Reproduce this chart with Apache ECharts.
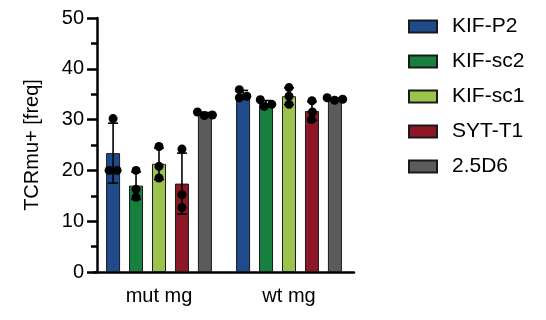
<!DOCTYPE html>
<html>
<head>
<meta charset="utf-8">
<script src="https://cdn.jsdelivr.net/npm/echarts@6/dist/echarts.min.js"></script>
<style>
  html, body { margin: 0; padding: 0; background: #fff; }
  #chart { width: 546px; height: 320px; }
</style>
</head>
<body>
<div id="chart"></div>
<script>
var categories = ['mut mg', 'wt mg'];
var seriesNames = ['KIF-P2', 'KIF-sc2', 'KIF-sc1', 'SYT-T1', '2.5D6'];
var yTicks = [0, 10, 20, 30, 40, 50];

// bar heights (mean) per group: [mut mg, wt mg]
var kifP2 = [23.4, 34.9];
var kifSc2 = [17.0, 33.1];
var kifSc1 = [21.3, 34.6];
var sytT1 = [17.4, 31.7];
var d56 = [31.0, 34.0];

// error bars (SD)
var kifP2Sd = [5.9, 0.85];
var kifSc2Sd = [2.7, 0.65];
var kifSc1Sd = [3.1, 1.65];
var sytT1Sd = [6.0, 1.85];
var d56Sd = [0.4, 0.25];

// individual replicates
var kifP2Pts = [[30.2, 20.0, 20.0], [35.9, 34.6, 34.3]];
var kifSc2Pts = [[20.0, 16.3, 14.7], [33.9, 33.0, 32.6]];
var kifSc1Pts = [[24.7, 20.8, 18.5], [36.3, 34.6, 33.0]];
var sytT1Pts = [[24.2, 15.2, 12.7], [33.7, 31.5, 30.0]];
var d56Pts = [[30.8, 31.5, 30.9], [34.3, 34.0, 33.8]];

var colors = ['#1f4a8c', '#17803f', '#9cc44c', '#8e1727', '#5a5b5a'];
var means = [kifP2, kifSc2, kifSc1, sytT1, d56];
var sds = [kifP2Sd, kifSc2Sd, kifSc1Sd, sytT1Sd, d56Sd];
var points = [kifP2Pts, kifSc2Pts, kifSc1Pts, sytT1Pts, d56Pts];

var FONT = "'Liberation Sans', Arial, sans-serif";
var BAR_W = 14;
var BAR_GAP = '64%';
var DOT_R = 4.5;

// simple beeswarm so overlapping dots sit side by side
function swarm(ys, minDist) {
  var idx = ys.map(function (y, i) { return i; });
  idx.sort(function (a, b) { return ys[b] - ys[a]; });
  var xs = [];
  var placed = [];
  idx.forEach(function (i) {
    var y = ys[i];
    for (var k = 0; k < 400; k++) {
      var cand = (k % 2 ? 1 : -1) * Math.ceil(k / 2) * 0.5;
      var ok = placed.every(function (p) {
        return (p.x - cand) * (p.x - cand) + (p.y - y) * (p.y - y) >= minDist * minDist;
      });
      if (ok) { xs[i] = cand; placed.push({ x: cand, y: y }); break; }
    }
  });
  // center each cluster of touching rows
  var group = ys.map(function (y, i) { return i; });
  function find(a) { while (group[a] !== a) a = group[a]; return a; }
  for (var a = 0; a < ys.length; a++) {
    for (var b = a + 1; b < ys.length; b++) {
      if (Math.abs(ys[a] - ys[b]) < minDist) group[find(b)] = find(a);
    }
  }
  var ext = {};
  ys.forEach(function (y, i) {
    var r = find(i);
    if (!ext[r]) ext[r] = [xs[i], xs[i]];
    ext[r][0] = Math.min(ext[r][0], xs[i]);
    ext[r][1] = Math.max(ext[r][1], xs[i]);
  });
  return xs.map(function (x, i) {
    var e = ext[find(i)];
    return x - (e[0] + e[1]) / 2;
  });
}

var series = [];
seriesNames.forEach(function (name, s) {
  series.push({
    name: name,
    type: 'bar',
    barWidth: BAR_W,
    barGap: BAR_GAP,
    itemStyle: { color: colors[s], borderColor: '#1a1a1a', borderWidth: 1 },
    z: 2,
    data: means[s]
  });
});
seriesNames.forEach(function (name, s) {
  series.push({
    name: name + ' dots',
    type: 'custom',
    z: 4,
    data: categories.map(function (c, ci) { return [ci, means[s][ci], sds[s][ci]]; }),
    renderItem: function (params, api) {
      var ci = api.value(0);
      var layout = api.barLayout({ barWidth: BAR_W, barGap: BAR_GAP, count: seriesNames.length });
      var off = layout ? layout[s].offsetCenter : 0;
      var top = api.coord([ci, api.value(1) + api.value(2)]);
      var bot = api.coord([ci, api.value(1) - api.value(2)]);
      var x = top[0] + off;
      var st = { stroke: '#000', lineWidth: 1.6 };
      var children = [
        { type: 'line', shape: { x1: x, y1: top[1], x2: x, y2: bot[1] }, style: st },
        { type: 'line', shape: { x1: x - 5, y1: top[1], x2: x + 5, y2: top[1] }, style: st },
        { type: 'line', shape: { x1: x - 5, y1: bot[1], x2: x + 5, y2: bot[1] }, style: st }
      ];
      var ys = points[s][ci].map(function (v) { return api.coord([ci, v])[1]; });
      var xs = swarm(ys, DOT_R * 1.7);
      ys.forEach(function (y, i) {
        children.push({ type: 'circle', shape: { cx: x + xs[i], cy: y, r: DOT_R }, style: { fill: '#000' } });
      });
      return { type: 'group', children: children };
    }
  });
});

var chart = echarts.init(document.getElementById('chart'));
chart.setOption({
  backgroundColor: '#fff',
  animation: false,
  textStyle: { fontFamily: FONT },
  grid: { left: 94, right: 192, top: 18, bottom: 48 },
  legend: {
    orient: 'vertical',
    left: 408,
    top: 16,
    padding: 0,
    itemWidth: 28,
    itemHeight: 12,
    itemGap: 14,
    icon: 'rect',
    data: seriesNames,
    textStyle: { fontSize: 21, color: '#000', fontFamily: FONT, lineHeight: 20, padding: [0, 0, 0, 10] }
  },
  xAxis: {
    type: 'category',
    data: categories,
    axisLine: { lineStyle: { color: '#000', width: 2.5 } },
    axisTick: { alignWithLabel: true, length: 9, lineStyle: { color: '#000', width: 2.5 } },
    axisLabel: { fontSize: 20, color: '#000', margin: 14, fontFamily: FONT }
  },
  yAxis: {
    type: 'value',
    min: yTicks[0],
    max: yTicks[yTicks.length - 1],
    interval: yTicks[1] - yTicks[0],
    offset: -3,
    name: 'TCRmu+ [freq]',
    nameLocation: 'middle',
    nameGap: 55,
    nameTextStyle: { fontSize: 20, color: '#000', fontFamily: FONT },
    axisLine: { show: true, lineStyle: { color: '#000', width: 2.5 } },
    axisTick: { show: true, length: 10, lineStyle: { color: '#000', width: 2.5 } },
    minorTick: { show: true, splitNumber: 2, length: 6, lineStyle: { color: '#000', width: 2.5 } },
    splitLine: { show: false },
    axisLabel: { fontSize: 20, color: '#000', margin: 13, fontFamily: FONT }
  },
  series: series
});
</script>
</body>
</html>
